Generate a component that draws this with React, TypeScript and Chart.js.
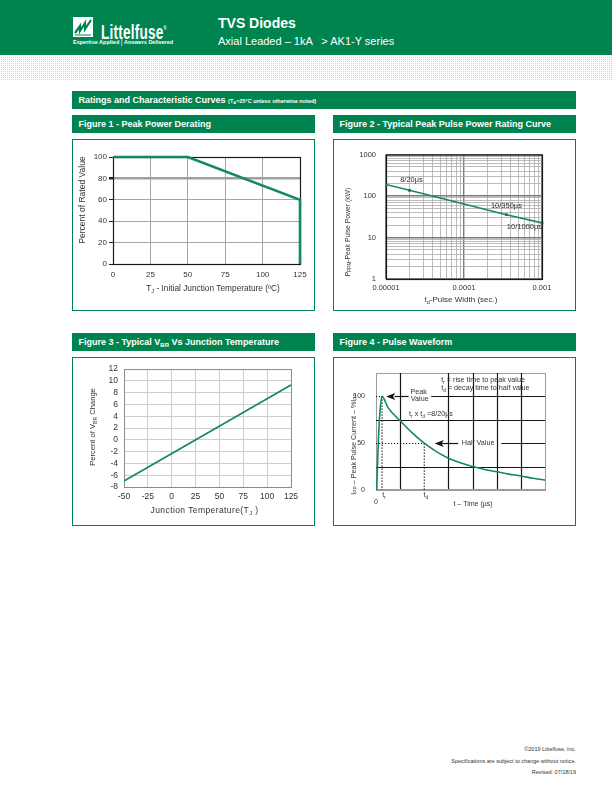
import React, { useEffect, useRef } from "react";
import { Chart, registerables } from "chart.js";

Chart.register(...registerables);

const FONT = "'Liberation Sans', Arial, Helvetica, sans-serif";
const GREEN = "#00844f";
const CURVE = "#148a5c";

// ---------- Figure 1 - Peak Power Derating
const derateTemp = [0, 50, 125, 125];
const deratePct = [100, 100, 60, 0];
const derateXTicks = [0, 25, 50, 75, 100, 125];
const derateYTicks = [0, 20, 40, 60, 80, 100];

// ---------- Figure 2 - Peak Pulse Power Rating Curve
const pulseWidth = [0.00001, 0.00002, 0.00035, 0.001];
const pulsePower = [190, 137, 35.5, 22.5];
const markWidth = [0.00002, 0.00035, 0.001];
const markPower = [137, 35.5, 22.5];
const markLabels = ["8/20µs", "10/350µs", "10/1000µs"];
const pulseXTicks = [0.00001, 0.0001, 0.001];
const pulseXTickLabels = ["0.00001", "0.0001", "0.001"];
const pulseYTicks = [1, 10, 100, 1000];
const pulseYTickLabels = ["1", "10", "100", "1000"];

// ---------- Figure 3 - Typical VBR vs Junction Temperature
const vbrTemp = [-50, 125];
const vbrChange = [-7, 9.3];
const vbrXTicks = [-50, -25, 0, 25, 50, 75, 100, 125];
const vbrYTicks = [-8, -6, -4, -2, 0, 2, 4, 6, 8, 10, 12];

// ---------- Figure 4 - Pulse Waveform
const waveTime = [0.3, 0.8, 1.4, 2, 2.5, 5, 10, 15, 20, 25, 30, 35, 40, 45, 50, 55, 60, 65, 70];
const waveCurrent = [0, 40, 75, 93, 100, 88, 74, 61, 50, 41, 34, 29, 25, 22, 19.5, 17, 15, 12.5, 10.5];
const waveYTicks = [0, 25, 50, 75, 100, 125];
const waveYTickLabels = ["0", "", "50", "", "100", ""];
const waveGridX = [10, 30, 40, 50, 60];
const waveRiseTime = 2.5;
const waveHalfTime = 20;

type Seg = [string, boolean?];

function drawRich(
  ctx: CanvasRenderingContext2D,
  segs: Seg[],
  x: number,
  y: number,
  size: number,
  o: { align?: "left" | "center" | "right"; rotate?: boolean; color?: string; weight?: string; spacing?: number } = {}
) {
  ctx.save();
  ctx.translate(x, y);
  if (o.rotate) ctx.rotate(-Math.PI / 2);
  ctx.fillStyle = o.color || "#2a2a2a";
  ctx.textBaseline = "middle";
  ctx.textAlign = "left";
  (ctx as any).letterSpacing = (o.spacing || 0) + "px";
  const fontFor = (sub?: boolean) => `${o.weight || "normal"} ${sub ? size * 0.68 : size}px ${FONT}`;
  let total = 0;
  const widths = segs.map(([t, sub]) => {
    ctx.font = fontFor(sub);
    const w = ctx.measureText(t).width;
    total += w;
    return w;
  });
  let cx = o.align === "left" ? 0 : o.align === "right" ? -total : -total / 2;
  segs.forEach(([t, sub], i) => {
    ctx.font = fontFor(sub);
    ctx.fillText(t, cx, sub ? size * 0.32 : 0);
    cx += widths[i];
  });
  ctx.restore();
}

function framePlugin(color: string, width: number) {
  return {
    id: "frame",
    beforeDatasetsDraw(chart: any) {
      const { ctx, chartArea: a } = chart;
      ctx.save();
      ctx.strokeStyle = color;
      ctx.lineWidth = width;
      ctx.strokeRect(a.left + 0.5, a.top + 0.5, a.right - a.left, a.bottom - a.top);
      ctx.restore();
    },
  };
}

function textPlugin(draw: (ctx: CanvasRenderingContext2D, chart: any) => void) {
  return {
    id: "texts",
    afterDraw(chart: any) {
      const ctx = chart.ctx;
      ctx.save();
      draw(ctx, chart);
      ctx.restore();
    },
  };
}

function base(top: number, right: number) {
  return {
    animation: false,
    responsive: false,
    maintainAspectRatio: false,
    devicePixelRatio: 1,
    events: [],
    layout: { padding: { left: 0, top, right, bottom: 0 } },
    plugins: { legend: { display: false }, tooltip: { enabled: false } },
  };
}

const tickFont = (size: number) => ({ size, family: FONT });

const logGrid = (lo: number, hi: number) => {
  const t: number[] = [];
  for (let e = lo; e < hi; e++) for (let m = 1; m < 10; m++) t.push(m * Math.pow(10, e));
  t.push(Math.pow(10, hi));
  return t;
};
const isDecade = (v: number) => {
  const l = Math.log10(v);
  return Math.abs(l - Math.round(l)) < 1e-6;
};
const labelFrom = (ticks: number[], labels: string[]) => (v: any) => {
  const i = ticks.findIndex((t) => Math.abs(t - v) / Math.abs(t || 1) < 1e-6);
  return i >= 0 ? labels[i] : "";
};

// ---------- configs
const fig1 = () => ({
  type: "line",
  data: {
    datasets: [
      {
        data: derateTemp.map((x, i) => ({ x, y: deratePct[i] })),
        borderColor: CURVE,
        borderWidth: 2.6,
        pointRadius: 0,
        tension: 0,
        clip: false,
      },
    ],
  },
  options: {
    ...base(17, 14),
    scales: {
      x: {
        type: "linear",
        min: 0,
        max: 125,
        afterBuildTicks: (s: any) => {
          s.ticks = derateXTicks.map((v) => ({ value: v }));
        },
        afterFit: (s: any) => {
          s.height = 46;
        },
        ticks: { font: tickFont(8), color: "#333", padding: 5.5, maxRotation: 0, autoSkip: false },
        grid: { color: "#a5a5a5", lineWidth: 1, drawTicks: false },
        border: { display: false },
      },
      y: {
        type: "linear",
        min: 0,
        max: 100,
        afterBuildTicks: (s: any) => {
          s.ticks = derateYTicks.map((v) => ({ value: v }));
        },
        afterFit: (s: any) => {
          s.width = 40;
        },
        ticks: { font: tickFont(8), color: "#333", padding: 2, autoSkip: false },
        grid: {
          color: (c: any) => (c.tick && c.tick.value === 80 ? "#a0a0a0" : "#a5a5a5"),
          lineWidth: (c: any) => (c.tick && c.tick.value === 80 ? 2.5 : 1),
          tickLength: 4,
          tickColor: "#222",
        },
        border: { display: false },
      },
    },
  },
  plugins: [
    framePlugin("#1a1a1a", 1.2),
    textPlugin((ctx) => {
      drawRich(ctx, [["Percent of Rated Value"]], 10, 60, 8.5, { rotate: true, color: "#333" });
      drawRich(ctx, [["T"], ["J", true], [" - Initial Junction Temperature (ºC)"]], 140, 149, 8.3, { color: "#333" });
    }),
  ],
});

const fig2 = () => ({
  type: "line",
  data: {
    datasets: [
      {
        data: pulseWidth.map((x, i) => ({ x, y: pulsePower[i] })),
        borderColor: CURVE,
        borderWidth: 1.6,
        pointRadius: 0,
        tension: 0,
      },
      {
        data: markWidth.map((x, i) => ({ x, y: markPower[i] })),
        showLine: false,
        pointStyle: "rect",
        pointRadius: 1.8,
        backgroundColor: "#222",
        borderColor: "#222",
        borderWidth: 0,
        clip: false,
      },
    ],
  },
  options: {
    ...base(12, 33),
    scales: {
      x: {
        type: "logarithmic",
        min: 0.00001,
        max: 0.001,
        afterBuildTicks: (s: any) => {
          s.ticks = logGrid(-5, -3).map((v) => ({ value: v }));
        },
        afterFit: (s: any) => {
          s.height = 31;
        },
        ticks: {
          font: tickFont(7.5),
          color: "#333",
          padding: 4,
          maxRotation: 0,
          autoSkip: false,
          callback: labelFrom(pulseXTicks, pulseXTickLabels),
        },
        grid: {
          color: (c: any) => (c.tick && isDecade(c.tick.value) ? "#7a7a7a" : "#ababab"),
          lineWidth: (c: any) => (c.tick && isDecade(c.tick.value) ? 1.4 : 0.8),
          drawTicks: false,
        },
        border: { display: false },
      },
      y: {
        type: "logarithmic",
        min: 1,
        max: 1000,
        afterBuildTicks: (s: any) => {
          s.ticks = logGrid(0, 3).map((v) => ({ value: v }));
        },
        afterFit: (s: any) => {
          s.width = 52;
        },
        ticks: {
          font: tickFont(7.5),
          color: "#333",
          padding: 10,
          autoSkip: false,
          callback: labelFrom(pulseYTicks, pulseYTickLabels),
        },
        grid: {
          color: (c: any) => (c.tick && isDecade(c.tick.value) ? "#7a7a7a" : "#ababab"),
          lineWidth: (c: any) => (c.tick && isDecade(c.tick.value) ? 1.6 : 0.8),
          drawTicks: false,
        },
        border: { display: false },
      },
    },
  },
  plugins: [
    framePlugin("#1a1a1a", 1.2),
    textPlugin((ctx, chart) => {
      const x = chart.scales.x;
      const y = chart.scales.y;
      const offsets: [number, number, "left" | "center" | "right"][] = [
        [2, -10, "center"],
        [0, -9, "center"],
        [0, 4, "right"],
      ];
      markLabels.forEach((lab, i) => {
        const px = x.getPixelForValue(markWidth[i]);
        const py = y.getPixelForValue(markPower[i]);
        const [dx, dy, al] = offsets[i];
        drawRich(ctx, [[lab]], px + dx, py + dy, 7.5, { align: al, color: "#333" });
      });
      drawRich(ctx, [["P"], ["PPM", true], ["-Peak Pulse Power (kW)"]], 14, 92, 6.8, { rotate: true, color: "#333" });
      drawRich(ctx, [["t"], ["d", true], ["-Pulse Width (sec.)"]], 127, 160, 8, { color: "#333" });
    }),
  ],
});

const fig3 = () => ({
  type: "line",
  data: {
    datasets: [
      {
        data: vbrTemp.map((x, i) => ({ x, y: vbrChange[i] })),
        borderColor: CURVE,
        borderWidth: 1.7,
        pointRadius: 0,
        tension: 0,
      },
    ],
  },
  options: {
    ...base(10, 23),
    scales: {
      x: {
        type: "linear",
        min: -50,
        max: 125,
        afterBuildTicks: (s: any) => {
          s.ticks = vbrXTicks.map((v) => ({ value: v }));
        },
        afterFit: (s: any) => {
          s.height = 38;
        },
        ticks: { font: tickFont(8.5), color: "#333", padding: 5, maxRotation: 0, autoSkip: false },
        grid: { color: "#cdcdcd", lineWidth: 1, drawTicks: false },
        border: { display: false },
      },
      y: {
        type: "linear",
        min: -8,
        max: 12,
        afterBuildTicks: (s: any) => {
          s.ticks = vbrYTicks.map((v) => ({ value: v }));
        },
        afterFit: (s: any) => {
          s.width = 51;
        },
        ticks: { font: tickFont(8.5), color: "#333", padding: 6, autoSkip: false },
        grid: { color: "#cdcdcd", lineWidth: 1, drawTicks: false },
        border: { display: false },
      },
    },
  },
  plugins: [
    framePlugin("#8a8a8a", 1),
    textPlugin((ctx) => {
      drawRich(ctx, [["Percent of V"], ["BR", true], [" Change"]], 20, 69, 7.6, { rotate: true, color: "#333" });
      drawRich(ctx, [["Junction Temperature(T"], ["J", true], [" )"]], 131.5, 153, 8.5, { color: "#333", spacing: 0.4 });
    }),
  ],
});

function arrowLeft(ctx: CanvasRenderingContext2D, tx: number, ty: number) {
  ctx.beginPath();
  ctx.moveTo(tx, ty);
  ctx.lineTo(tx + 9, ty - 3.5);
  ctx.lineTo(tx + 7, ty);
  ctx.lineTo(tx + 9, ty + 3.5);
  ctx.closePath();
  ctx.fill();
}

const fig4 = () => ({
  type: "line",
  data: {
    datasets: [
      {
        data: waveTime.map((x, i) => ({ x, y: waveCurrent[i] })),
        borderColor: CURVE,
        borderWidth: 1.6,
        pointRadius: 0,
        cubicInterpolationMode: "monotone",
      },
    ],
  },
  options: {
    ...base(15, 30),
    scales: {
      x: {
        type: "linear",
        min: 0,
        max: 70,
        afterFit: (s: any) => {
          s.height = 35;
        },
        ticks: { display: false },
        grid: { display: false },
        border: { display: false },
      },
      y: {
        type: "linear",
        min: 0,
        max: 125,
        afterBuildTicks: (s: any) => {
          s.ticks = waveYTicks.map((v) => ({ value: v }));
        },
        afterFit: (s: any) => {
          s.width = 42;
        },
        ticks: {
          font: tickFont(7),
          color: "#333",
          padding: 3,
          autoSkip: false,
          callback: labelFrom(waveYTicks, waveYTickLabels),
        },
        grid: { display: false },
        border: { display: false },
      },
    },
  },
  plugins: [
    {
      id: "waveGrid",
      beforeDatasetsDraw(chart: any) {
        const { ctx, chartArea: a, scales } = chart;
        const X = (v: number) => scales.x.getPixelForValue(v);
        const Y = (v: number) => scales.y.getPixelForValue(v);
        const seg = (x1: number, y1: number, x2: number, y2: number) => {
          ctx.beginPath();
          ctx.moveTo(x1, y1);
          ctx.lineTo(x2, y2);
          ctx.stroke();
        };
        ctx.save();
        // frame
        ctx.strokeStyle = "#9c9c9c";
        ctx.lineWidth = 1;
        ctx.strokeRect(a.left + 0.5, a.top + 0.5, a.right - a.left, a.bottom - a.top);
        ctx.lineWidth = 2;
        seg(a.left, a.bottom, a.right, a.bottom);
        // solid grid
        ctx.strokeStyle = "#151515";
        ctx.lineWidth = 1.2;
        waveGridX.forEach((v) => seg(Math.round(X(v)) + 0.5, a.top, Math.round(X(v)) + 0.5, a.bottom - 1));
        [25, 75].forEach((v) => seg(a.left, Math.round(Y(v)) + 0.5, a.right, Math.round(Y(v)) + 0.5));
        const y100 = Math.round(Y(100)) + 0.5;
        const y50 = Math.round(Y(50)) + 0.5;
        seg(X(7.7), y100, X(13.5), y100);
        seg(X(22.9), y100, a.right, y100);
        seg(X(27), y50, X(34), y50);
        seg(X(51.9), y50, a.right, y50);
        // dotted guides
        ctx.setLineDash([1.2, 1.8]);
        seg(a.left, y100, X(waveRiseTime), y100);
        seg(X(waveRiseTime), y100, X(waveRiseTime), a.bottom);
        seg(a.left, y50, X(waveHalfTime), y50);
        seg(X(waveHalfTime), y50, X(waveHalfTime), a.bottom);
        ctx.setLineDash([]);
        // arrows
        ctx.fillStyle = "#151515";
        arrowLeft(ctx, X(4.2), y100);
        arrowLeft(ctx, X(24.3), y50);
        ctx.restore();
      },
    },
    textPlugin((ctx, chart) => {
      const { chartArea: a, scales } = chart;
      const X = (v: number) => scales.x.getPixelForValue(v);
      const Y = (v: number) => scales.y.getPixelForValue(v);
      const c = { color: "#333" };
      drawRich(ctx, [["t"], ["r", true], [" = rise time to peak value"]], X(27), Y(117.5), 7.2, { ...c, align: "left" });
      drawRich(ctx, [["t"], ["d", true], [" = decay time to half value"]], X(27), Y(109), 7.2, { ...c, align: "left" });
      drawRich(ctx, [["Peak"]], X(17.7), Y(105), 7.2, c);
      drawRich(ctx, [["Value"]], X(18.1), Y(97), 7.2, c);
      drawRich(ctx, [["t"], ["r", true], [" x t"], ["d", true], [" =8/20µs"]], X(13.7), Y(81), 7.2, { ...c, align: "left" });
      drawRich(ctx, [["Half Value"]], X(42.3), Y(50), 7.2, c);
      drawRich(ctx, [["0"]], X(0), a.bottom + 12, 7, c);
      drawRich(ctx, [["t"], ["r", true]], X(waveRiseTime) + 2, a.bottom + 5, 7.2, c);
      drawRich(ctx, [["t"], ["d", true]], X(waveHalfTime) + 1.5, a.bottom + 5, 7.2, c);
      drawRich(ctx, [["t – Time (µs)"]], 139, 146, 7, c);
      drawRich(ctx, [["I"], ["PP", true], [" – Peak Pulse Current – %I"], ["PP", true]], 19.7, 86, 7.2, {
        ...c,
        rotate: true,
      });
    }),
  ],
});

function ChartBox({ left, top, width, height, make }: any) {
  const ref = useRef<HTMLCanvasElement>(null);
  useEffect(() => {
    const chart = new Chart(ref.current as HTMLCanvasElement, make() as any);
    return () => chart.destroy();
  }, []);
  return (
    <canvas
      ref={ref}
      width={width}
      height={height}
      style={{ position: "absolute", left, top, width, height }}
    />
  );
}

const abs = (left: number, top: number, extra: any = {}) => ({ position: "absolute" as const, left, top, ...extra });

function Bar({ left, top, width, children }: any) {
  return (
    <div
      style={abs(left, top, {
        width,
        height: 18,
        background: GREEN,
        color: "#fff",
        fontWeight: "bold",
        fontSize: 9,
        lineHeight: "18px",
        paddingLeft: 6.5,
        boxSizing: "border-box",
        whiteSpace: "nowrap",
        fontFamily: FONT,
      })}
    >
      {children}
    </div>
  );
}

function Box({ left, top, width, height }: any) {
  return (
    <div
      style={abs(left, top, {
        width,
        height,
        border: `1px solid ${GREEN}`,
        boxSizing: "border-box",
        background: "#fff",
      })}
    />
  );
}

export default function App() {
  return (
    <div style={abs(0, 0, { width: 612, height: 792, background: "#fff", overflow: "hidden", fontFamily: FONT })}>
      {/* header */}
      <div style={abs(0, 0, { width: 612, height: 55, background: GREEN })} />
      <svg style={abs(73, 17)} width={20} height={20} viewBox="0 0 20 20">
        <rect x={0} y={0} width={20} height={20} fill="#fff" />
        <polyline points="2,16 7,9 7,14 12,6 12,12 18,3" fill="none" stroke={GREEN} strokeWidth={2.2} />
        <line x1={2} y1={18} x2={18} y2={18} stroke={GREEN} strokeWidth={1} />
      </svg>
      <div
        style={abs(101, 18.4, {
          color: "#fff",
          fontWeight: "bold",
          fontSize: 20,
          lineHeight: "20px",
          transform: "scaleX(0.68)",
          transformOrigin: "left top",
          whiteSpace: "nowrap",
          letterSpacing: 0.3,
        })}
      >
        Littelfuse
        <span style={{ fontSize: 6, verticalAlign: 9 }}>®</span>
      </div>
      <div
        style={abs(73, 39.3, {
          color: "#fff",
          fontWeight: "bold",
          fontSize: 5.5,
          lineHeight: "5.5px",
          whiteSpace: "nowrap",
        })}
      >
        Expertise Applied <span style={{ fontWeight: "normal", fontSize: 7 }}>|</span> Answers Delivered
      </div>
      <div style={abs(218, 15.8, { color: "#fff", fontWeight: "bold", fontSize: 14, lineHeight: "14px", whiteSpace: "nowrap" })}>
        TVS Diodes
      </div>
      <div style={abs(218, 35.6, { color: "#fff", fontSize: 11, lineHeight: "11px", whiteSpace: "pre" })}>
        {"Axial Leaded – 1kA   > AK1-Y series"}
      </div>
      {/* dotted band */}
      <div
        style={abs(0, 56, {
          width: 612,
          height: 24,
          backgroundImage:
            "linear-gradient(90deg, #fff 1px, transparent 1px), linear-gradient(#fff 1px, #cfcfcf 1px)",
          backgroundSize: "2px 2px",
        })}
      />
      {/* section bars */}
      <Bar left={72} top={91} width={504}>
        Ratings and Characteristic Curves{" "}
        <span style={{ fontSize: 5.5 }}>
          (T<sub style={{ fontSize: 4, verticalAlign: -1 }}>A</sub>=25°C unless otherwise noted)
        </span>
      </Bar>
      <Bar left={72} top={115} width={243}>
        Figure 1 - Peak Power Derating
      </Bar>
      <Bar left={333} top={115} width={243}>
        Figure 2 - Typical Peak Pulse Power Rating Curve
      </Bar>
      <Bar left={72} top={333} width={243}>
        Figure 3 - Typical V<sub style={{ fontSize: 6, verticalAlign: -2 }}>BR</sub> Vs Junction Temperature
      </Bar>
      <Bar left={333} top={333} width={243}>
        Figure 4 - Pulse Waveform
      </Bar>
      {/* boxes */}
      <Box left={72} top={139} width={243} height={172} />
      <Box left={333} top={139} width={243} height={172} />
      <Box left={72} top={357} width={243} height={169} />
      <Box left={333} top={357} width={243} height={169} />
      <ChartBox left={73} top={140} width={241} height={170} make={fig1} />
      <ChartBox left={334} top={140} width={241} height={170} make={fig2} />
      <ChartBox left={73} top={358} width={241} height={167} make={fig3} />
      <ChartBox left={334} top={358} width={241} height={167} make={fig4} />
      {/* footer */}
      <div
        style={abs(376, 744, {
          width: 200,
          textAlign: "right",
          fontSize: 5.5,
          lineHeight: "11.5px",
          color: "#333",
        })}
      >
        <div>©2019 Littelfuse, Inc.</div>
        <div>Specifications are subject to change without notice.</div>
        <div>Revised: 07/18/19</div>
      </div>
    </div>
  );
}
